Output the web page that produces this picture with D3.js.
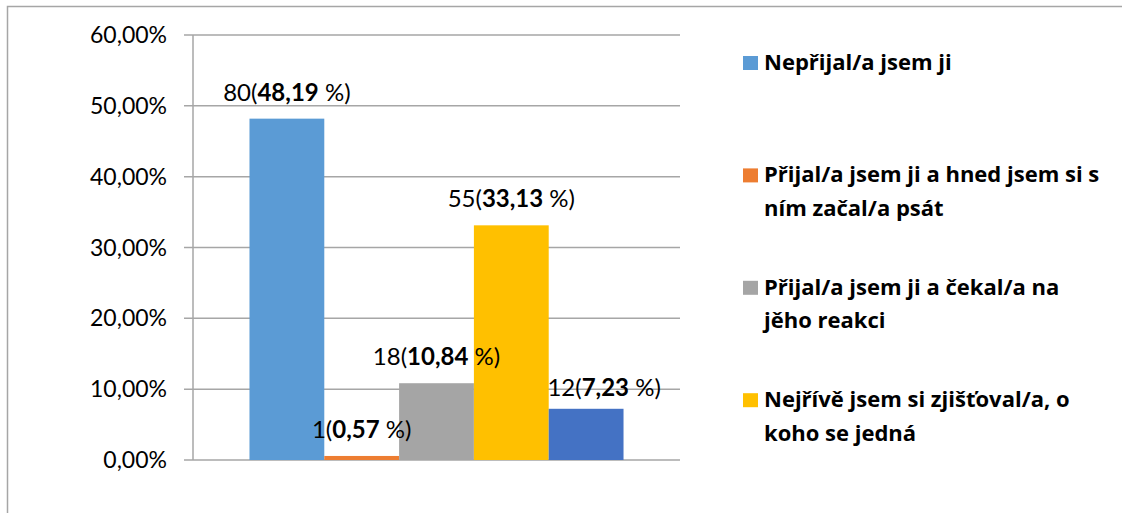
<!DOCTYPE html>
<meta charset="utf-8">
<style>
    body { margin: 0; background: #fff; }
    svg { display: block; font-family: Lato, "Open Sans", sans-serif; }
    .grid line { stroke: #a6a6a6; stroke-width: 1.5px; }
    .tick-label { font-size: 23px; fill: #000; }
    .bar-label { font-size: 24px; fill: #000; }
    .legend text { font-family: "Open Sans", sans-serif; font-size: 22px; font-weight: bold; fill: #000; }
</style>
<svg width="1122" height="513"></svg>
<script src="https://d3js.org/d3.v7.min.js"></script>
<script>

    // data
    var series = ["Nepřijal/a jsem ji",
                  "Přijal/a jsem ji a hned jsem si s ním začal/a psát",
                  "Přijal/a jsem ji a čekal/a na jěho reakci",
                  "Nejřívě jsem si zjišťoval/a, o koho se jedná",
                  "Jiné"];
    var counts = [80, 1, 18, 55, 12];
    var percents = [48.19, 0.57, 10.84, 33.13, 7.23];
    var yTicks = [0, 10, 20, 30, 40, 50, 60];
    // legend lines as wrapped in the original (fifth entry is cut off there)
    var legendLines = [
        ["Nepřijal/a jsem ji"],
        ["Přijal/a jsem ji a hned jsem si s", "ním začal/a psát"],
        ["Přijal/a jsem ji a čekal/a na", "jěho reakci"],
        ["Nejřívě jsem si zjišťoval/a, o", "koho se jedná"]
    ];
    var colors = ["#5B9BD5", "#ED7D31", "#A5A5A5", "#FFC000", "#4472C4"];

    var svg = d3.select("svg"),
        plot = {left: 193, right: 680, top: 35, bottom: 460};

    var fmt = function(v) { return v.toFixed(2).replace(".", ","); };

    // outer frame (only left and top edges are visible)
    svg.append("path")
        .attr("d", "M7.5,513V6.5H1122")
        .attr("fill", "none")
        .attr("stroke", "#a6a6a6")
        .attr("stroke-width", 1.5);

    var y = d3.scaleLinear().domain([0, 60]).range([plot.bottom, plot.top]);
    var color = d3.scaleOrdinal().domain(series).range(colors);

    // one category group, five series side by side
    var group = d3.scaleBand().domain(["all"]).range([plot.left, plot.right]).paddingOuter(0.151);
    var x = d3.scaleBand().domain(series)
        .range([group("all"), group("all") + group.bandwidth()]);

    // gridlines + tick marks
    var grid = svg.append("g").attr("class", "grid");
    grid.selectAll("line")
        .data(yTicks)
        .enter().append("line")
        .attr("x1", plot.left - 9)
        .attr("x2", plot.right)
        .attr("y1", d => y(d))
        .attr("y2", d => y(d));

    grid.append("line")
        .attr("x1", plot.left).attr("x2", plot.left)
        .attr("y1", plot.top).attr("y2", plot.bottom);

    svg.append("g").selectAll("text")
        .data(yTicks)
        .enter().append("text")
        .attr("class", "tick-label")
        .attr("x", plot.left - 26)
        .attr("y", d => y(d))
        .attr("dy", "0.35em")
        .attr("text-anchor", "end")
        .text(d => fmt(d) + "%");

    // bars
    var data = series.map(function(s, i) {
        return {name: s, count: counts[i], pct: percents[i]};
    });

    svg.append("g").selectAll("rect")
        .data(data)
        .enter().append("rect")
        .attr("x", d => x(d.name))
        .attr("width", x.bandwidth())
        .attr("y", d => y(d.pct))
        .attr("height", d => y(0) - y(d.pct))
        .attr("fill", d => color(d.name));

    // value labels: count(bold pct %)
    var labels = svg.append("g").selectAll("text")
        .data(data)
        .enter().append("text")
        .attr("class", "bar-label")
        .attr("text-anchor", "middle")
        .attr("x", function(d, i) {
            // last label was pushed right in the original to avoid the yellow bar
            return x(d.name) + x.bandwidth() / 2 + (i === 4 ? 18 : 0);
        })
        .attr("y", function(d, i) { return y(d.pct) - (i === 4 ? 13 : 18); });

    labels.append("tspan").text(d => d.count + "(");
    labels.append("tspan").attr("font-weight", "bold").text(d => fmt(d.pct));
    labels.append("tspan").text(" %)");

    // legend
    var legend = svg.append("g").attr("class", "legend")
        .selectAll("g")
        .data(legendLines)
        .enter().append("g")
        .attr("transform", (d, i) => "translate(743," + (70 + i * 112.4) + ")");

    legend.append("rect")
        .attr("x", 0)
        .attr("y", -14)
        .attr("width", 15)
        .attr("height", 14)
        .attr("fill", (d, i) => colors[i]);

    legend.append("text")
        .attr("x", 21)
        .selectAll("tspan")
        .data(d => d)
        .enter().append("tspan")
        .attr("x", 21)
        .attr("y", (d, j) => j * 33.5)
        .text(d => d);

</script>
